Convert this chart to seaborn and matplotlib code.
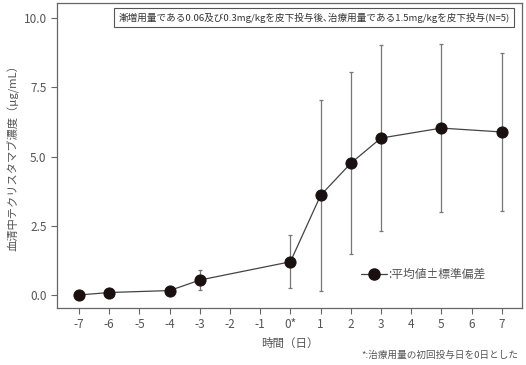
import matplotlib
matplotlib.use("Agg")
import matplotlib.pyplot as plt
import seaborn as sns
import pandas as pd
from matplotlib.lines import Line2D

days = [-7, -6, -4, -3, 0, 1, 2, 3, 5, 7]
mean_conc = [0.0, 0.09, 0.16, 0.54, 1.20, 3.60, 4.76, 5.67, 6.03, 5.89]
sd_conc = [0.0, 0.0, 0.0, 0.36, 0.96, 3.44, 3.29, 3.35, 3.03, 2.87]
xticks = list(range(-7, 8))
xticklabels = [str(v) if v != 0 else "0*" for v in xticks]
yticks = [0.0, 2.5, 5.0, 7.5, 10.0]

sns.set_theme(style="ticks")
plt.rcParams['font.family'] = ['Noto Sans CJK JP', 'DejaVu Sans']

df = pd.DataFrame({"day": days, "mean": mean_conc, "sd": sd_conc})

fig = plt.figure(figsize=(5.26, 3.65), dpi=100)
ax = fig.add_axes([57/526, 1 - 308/365, (522-57)/526, (308-3)/365])

txt = "#555555"
ax.errorbar(df["day"], df["mean"], yerr=df["sd"], fmt="none", ecolor="#777777",
            elinewidth=0.9, capsize=1.5, capthick=0.9, zorder=2)
sns.lineplot(data=df, x="day", y="mean", ax=ax, color="#444444", linewidth=0.9,
             marker="o", markersize=8, markerfacecolor="#1a1010",
             markeredgecolor="#1a1010", zorder=3)

ax.set_xlim(-7.73, 7.67)
ax.set_ylim(-0.47, 10.55)
ax.set_xticks(xticks)
ax.set_xticklabels(xticklabels)
ax.set_yticks(yticks)
ax.set_yticklabels([f"{v:.1f}" for v in yticks])
ax.tick_params(axis="both", colors="#666666", labelcolor=txt, labelsize=8.5,
               length=4, width=0.8)
for s in ax.spines.values():
    s.set_color("#666666")
    s.set_linewidth(0.9)

ax.set_xlabel("時間（日）", color=txt, fontsize=8.3, labelpad=4)
ax.set_ylabel("血清中テクリスタマブ濃度（μg/mL）", color=txt, fontsize=8.1, labelpad=3)

ax.text(0.553, 0.952,
        "漸増用量である0.06及び0.3mg/kgを皮下投与後､治療用量である1.5mg/kgを皮下投与(N=5)",
        transform=ax.transAxes, ha="center", va="center", fontsize=6.9, color="#333333",
        bbox=dict(boxstyle="square,pad=0.45", fc="white", ec="#555555", lw=0.8))

handle = Line2D([0], [0], color="#444444", lw=0.9, marker="o", markersize=8,
                markerfacecolor="#1a1010", markeredgecolor="#1a1010")
leg = ax.legend([handle], [":平均値±標準偏差"], loc="center left",
                bbox_to_anchor=(0.63, 0.11), frameon=False, fontsize=8.5,
                handlelength=2.2, handletextpad=0.1, labelcolor=txt)

fig.text(518/526, 1 - 355/365, "*:治療用量の初回投与日を0日とした", ha="right",
         va="center", fontsize=6.9, color=txt)

fig.savefig("out.png", dpi=100)
